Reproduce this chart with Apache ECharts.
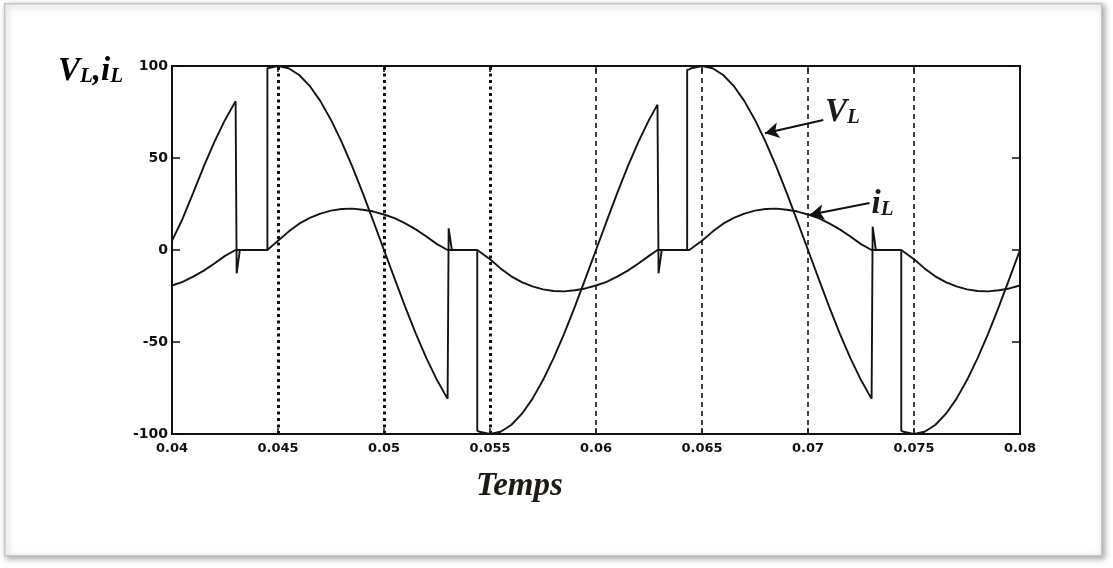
<!DOCTYPE html>
<html>
<head>
<meta charset="utf-8">
<script src="https://cdn.jsdelivr.net/npm/echarts@6/dist/echarts.min.js"></script>
<style>
html,body{margin:0;padding:0;background:#fff;}
#main{width:1113px;height:568px;}
</style>
</head>
<body>
<div id="main"></div>
<script>
// ---- data ----
const xTickLabels = ['0.04','0.045','0.05','0.055','0.06','0.065','0.07','0.075','0.08'];
const yTickLabels = {'-100':'-100','-50':'-50','0':'0','50':'50','100':'100'};
const dottedTimes = [0.045, 0.05, 0.055];
const dashedTimes = [0.06, 0.065, 0.07, 0.075];

// V_L (time [s], value)
const vlPoints = [
  [0.0400,5],[0.0405,17],[0.0410,31],[0.0415,45.4],[0.0420,58.8],[0.0425,70.7],[0.0430,80.9],
  [0.04305,-12.7],[0.0432,0],[0.0445,0],[0.0445,98.8],
  [0.0450,100],[0.0455,98.8],[0.0460,95.1],[0.0465,89.1],[0.0470,80.9],[0.0475,70.7],[0.0480,58.8],
  [0.0485,45.4],[0.0490,30.9],[0.0495,15.6],[0.0500,0],[0.0505,-15.6],[0.0510,-30.9],[0.0515,-45.4],
  [0.0520,-58.8],[0.0525,-70.7],[0.0530,-80.9],
  [0.05305,11.8],[0.0532,0],[0.0544,0],[0.0544,-98.2],
  [0.0545,-98.8],[0.0550,-100],[0.0555,-98.8],[0.0560,-95.1],[0.0565,-89.1],[0.0570,-80.9],[0.0575,-70.7],
  [0.0580,-58.8],[0.0585,-45.4],[0.0590,-30.9],[0.0595,-15.6],[0.0600,0],[0.0605,15.6],[0.0610,30.9],
  [0.0615,45.4],[0.0620,58.8],[0.0625,70.7],[0.0629,79],
  [0.06295,-12.7],[0.0631,0],[0.0643,0],[0.0643,97.9],[0.0644,98.2],
  [0.0645,98.8],[0.0650,100],[0.0655,98.8],[0.0660,95.1],[0.0665,89.1],[0.0670,80.9],[0.0675,70.7],
  [0.0680,58.8],[0.0685,45.4],[0.0690,30.9],[0.0695,15.6],[0.0700,0],[0.0705,-15.6],[0.0710,-30.9],
  [0.0715,-45.4],[0.0720,-58.8],[0.0725,-70.7],[0.0730,-80.9],
  [0.07305,12.7],[0.0732,0],[0.0744,0],[0.0744,-98.2],
  [0.0745,-98.8],[0.0750,-100],[0.0755,-98.8],[0.0760,-95.1],[0.0765,-89.1],[0.0770,-80.9],[0.0775,-70.7],
  [0.0780,-58.8],[0.0785,-45.4],[0.0790,-30.9],[0.0795,-15.6],[0.0800,0]
];

// i_L (time [s], value)
const ilPoints = [
  [0.0400,-19.3],[0.0405,-17.3],[0.0410,-14.5],[0.0415,-11.2],[0.0420,-7.3],[0.0425,-3.2],[0.0430,0],
  [0.0445,0],[0.0450,5],[0.0455,10],[0.0460,14.3],[0.0465,17.5],[0.0470,19.8],[0.0475,21.4],[0.0480,22.3],
  [0.0485,22.5],[0.0490,21.9],[0.0495,20.9],[0.0500,19.3],[0.0505,17.3],[0.0510,14.5],[0.0515,11.2],
  [0.0520,7.3],[0.0525,3.2],[0.0530,0],
  [0.0544,0],[0.0550,-5],[0.0555,-10],[0.0560,-14.3],[0.0565,-17.5],[0.0570,-19.8],[0.0575,-21.4],[0.0580,-22.3],
  [0.0585,-22.5],[0.0590,-21.9],[0.0595,-20.9],[0.0600,-19.3],[0.0605,-17.3],[0.0610,-14.5],[0.0615,-11.2],
  [0.0620,-7.3],[0.0625,-3.2],[0.0629,0],
  [0.0644,0],[0.0650,5],[0.0655,10],[0.0660,14.3],[0.0665,17.5],[0.0670,19.8],[0.0675,21.4],[0.0680,22.3],
  [0.0685,22.5],[0.0690,21.9],[0.0695,20.9],[0.0700,19.3],[0.0705,17.3],[0.0710,14.5],[0.0715,11.2],
  [0.0720,7.3],[0.0725,3.2],[0.0730,0],
  [0.0744,0],[0.0750,-5],[0.0755,-10],[0.0760,-14.3],[0.0765,-17.5],[0.0770,-19.8],[0.0775,-21.4],[0.0780,-22.3],
  [0.0785,-22.5],[0.0790,-21.9],[0.0795,-20.9],[0.0800,-19.3]
];

// annotation anchors (data coordinates, time in s)
const vlArrow = [[0.07072,70.7],[0.06797,63.4]];
const ilArrow = [[0.07290,25.5],[0.07009,19.2]];
const vlLabelAt = [0.07080,74.5];
const ilLabelAt = [0.07300,24.5];

// ---- chart (x axis drawn in milliseconds to keep marker precision) ----
const ms = t => Math.round(t * 1e6) / 1e3;
const toMs = p => [ms(p[0]), p[1]];

const chart = echarts.init(document.getElementById('main'), null, {renderer:'canvas'});
const lineColor = '#141414';
const serifRich = {
  big:{fontFamily:'Liberation Serif',fontStyle:'italic',fontWeight:'bold',fontSize:33,color:'#1e1a14'},
  sub:{fontFamily:'Liberation Serif',fontStyle:'italic',fontWeight:'bold',fontSize:21,color:'#1e1a14',padding:[10,0,0,0]}
};

const markLineData = [];
dottedTimes.forEach(t => markLineData.push({xAxis:ms(t), lineStyle:{type:[3,3.5],width:3,color:'#111'}}));
dashedTimes.forEach(t => markLineData.push({xAxis:ms(t), lineStyle:{type:[5,4],width:1.7,color:'#222'}}));

const tickFont = {color:'#111',fontFamily:'DejaVu Sans',fontWeight:'bold'};

const option = {
  backgroundColor:'#fff',
  animation:false,
  grid:{left:172,right:93,top:66,bottom:134,show:true,borderColor:'#111',borderWidth:2,backgroundColor:'transparent'},
  xAxis:[{
    type:'value',min:40,max:80,interval:5,position:'bottom',
    axisLine:{show:true,onZero:false,lineStyle:{color:'#111',width:2}},
    axisTick:{show:true,inside:true,length:6,lineStyle:{color:'#111',width:1.5}},
    splitLine:{show:false},
    axisLabel:Object.assign({margin:8,fontSize:13,formatter:(v,i)=>xTickLabels[i]}, tickFont)
  },{
    type:'value',min:40,max:80,interval:5,position:'top',
    axisLine:{show:true,onZero:false,lineStyle:{color:'#111',width:2}},
    axisTick:{show:true,inside:true,length:6,lineStyle:{color:'#111',width:1.5}},
    axisLabel:{show:false},splitLine:{show:false}
  }],
  yAxis:[{
    type:'value',min:-100,max:100,interval:50,position:'left',
    axisLine:{show:true,onZero:false,lineStyle:{color:'#111',width:2}},
    axisTick:{show:true,inside:true,length:8,lineStyle:{color:'#111',width:1.5}},
    splitLine:{show:false},
    axisLabel:Object.assign({margin:4,fontSize:14,formatter:v=>yTickLabels[String(Math.round(v))]}, tickFont)
  },{
    type:'value',min:-100,max:100,interval:50,position:'right',
    axisLine:{show:true,onZero:false,lineStyle:{color:'#111',width:2}},
    axisTick:{show:true,inside:true,length:8,lineStyle:{color:'#111',width:1.5}},
    axisLabel:{show:false},splitLine:{show:false}
  }],
  series:[
    {
      name:'iL',type:'line',data:ilPoints.map(toMs),showSymbol:false,symbol:'none',
      lineStyle:{color:lineColor,width:1.9},z:3,
      markLine:{silent:true,symbol:'none',label:{show:false},data:markLineData,z:1},
      markPoint:{silent:true,symbol:'circle',symbolSize:0,data:[{coord:toMs(ilLabelAt),
        label:{show:true,position:'right',distance:0,formatter:'{big|i}{sub|L}',rich:serifRich}}]}
    },
    {
      name:'VL',type:'line',data:vlPoints.map(toMs),showSymbol:false,symbol:'none',
      lineStyle:{color:lineColor,width:1.9},z:4,
      markLine:{silent:true,symbol:['none','arrow'],symbolSize:[12,14],label:{show:false},
        lineStyle:{type:'solid',color:'#111',width:2},
        data:[
          [{coord:toMs(vlArrow[0])},{coord:toMs(vlArrow[1])}],
          [{coord:toMs(ilArrow[0])},{coord:toMs(ilArrow[1])}]
        ]},
      markPoint:{silent:true,symbol:'circle',symbolSize:0,data:[{coord:toMs(vlLabelAt),
        label:{show:true,position:'right',distance:0,formatter:'{big|V}{sub|L}',rich:serifRich}}]}
    }
  ],
  graphic:[
    {type:'rect',left:4,top:3,z:-10,shape:{width:1097,height:552},
      style:{fill:'#fff',stroke:'#c4c4c4',lineWidth:1.5,shadowBlur:6,shadowColor:'rgba(0,0,0,0.35)',shadowOffsetX:2,shadowOffsetY:2}},
    {type:'text',left:58,top:55,z:10,style:{text:'{big|V}{sub|L}{big|,i}{sub|L}',rich:serifRich}},
    {type:'text',left:476,top:470,z:10,style:{text:'Temps',fontFamily:'Liberation Serif',fontStyle:'italic',fontWeight:'bold',fontSize:33,fill:'#1e1a14'}}
  ]
};
chart.setOption(option);
</script>
</body>
</html>
